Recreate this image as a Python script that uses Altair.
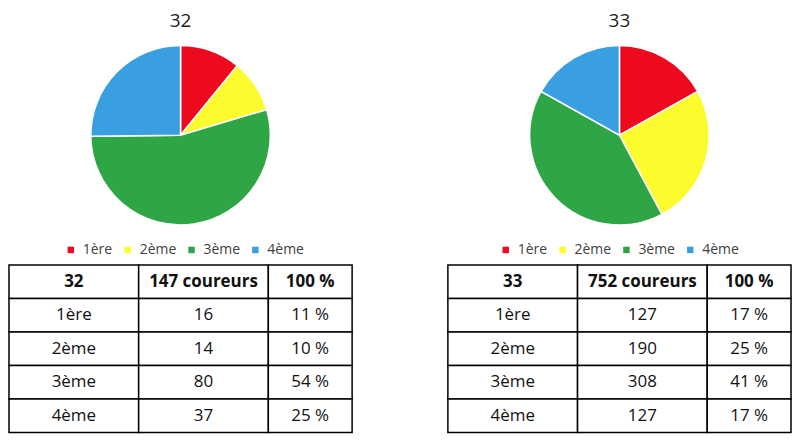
import altair as alt
import pandas as pd

FONT = "Open Sans"

CATEGORIES = ["1ère", "2ème", "3ème", "4ème"]
COLORS = ["#ee0a1e", "#fbfb2e", "#2fa646", "#3a9fe1"]

TITLE_A = "32"
TOTAL_A = "147 coureurs"
COUNTS_A = [16, 14, 80, 37]
PCT_A = ["11 %", "10 %", "54 %", "25 %"]

TITLE_B = "33"
TOTAL_B = "752 coureurs"
COUNTS_B = [127, 190, 308, 127]
PCT_B = ["17 %", "25 %", "41 %", "17 %"]

TOTAL_PCT = "100 %"

# layout only: table column widths in pixels
COL_WIDTHS = [130, 130, 84]
TABLE_W = sum(COL_WIDTHS)


def pie(title, counts, legend_x):
    df = pd.DataFrame({"cat": CATEGORIES, "n": counts, "idx": list(range(len(CATEGORIES)))})
    return (
        alt.Chart(
            df,
            title=alt.Title(title, fontSize=19, font=FONT, fontWeight="normal",
                            color="#222222", anchor="middle", offset=4),
        )
        .mark_arc(radius=90, stroke="white", strokeWidth=1.5)
        .encode(
            theta=alt.Theta("n:Q", stack=True),
            color=alt.Color(
                "cat:N",
                scale=alt.Scale(domain=CATEGORIES, range=COLORS),
                legend=alt.Legend(
                    title=None, orient="none", legendX=legend_x, legendY=208,
                    direction="horizontal", columns=4, gridAlign="none",
                    symbolType="square", symbolSize=42, symbolStrokeWidth=0,
                    labelFontSize=14, labelFont=FONT, labelColor="#404040",
                    columnPadding=8, labelOffset=5,
                ),
            ),
            order=alt.Order("idx:Q"),
        )
        .properties(width=TABLE_W, height=200)
    )


def table(title, total, counts, pcts):
    rows = [[title, total, TOTAL_PCT]] + [
        [c, str(n), p] for c, n, p in zip(CATEGORIES, counts, pcts)
    ]
    starts = [sum(COL_WIDTHS[:i]) for i in range(len(COL_WIDTHS))]
    recs = []
    for r, row in enumerate(rows):
        for c, txt in enumerate(row):
            recs.append({"row": r, "x0": starts[c], "x1": starts[c] + COL_WIDTHS[c], "label": txt})
    df = pd.DataFrame(recs)
    xs = alt.Scale(domain=[0, TABLE_W], nice=False, zero=True)
    ysc = alt.Scale(paddingInner=0, paddingOuter=0)
    base = alt.Chart(df).encode(y=alt.Y("row:O", axis=None, scale=ysc))
    cells = base.mark_rect(fill="white", stroke="black", strokeWidth=1.5).encode(
        x=alt.X("x0:Q", scale=xs, axis=None), x2="x1:Q"
    )
    txt = base.transform_calculate(xc="(datum.x0 + datum.x1) / 2").encode(
        x=alt.X("xc:Q", scale=xs, axis=None), text="label:N"
    )
    head = txt.transform_filter("datum.row == 0").mark_text(
        font=FONT, fontSize=17, fontWeight="bold", color="#111111"
    )
    body = txt.transform_filter("datum.row > 0").mark_text(
        font=FONT, fontSize=17, color="#111111"
    )
    return alt.layer(cells, head, body).properties(width=TABLE_W, height=168)


left = alt.vconcat(pie(TITLE_A, COUNTS_A, 55), table(TITLE_A, TOTAL_A, COUNTS_A, PCT_A),
                   spacing=7).resolve_scale(theta="independent", color="independent")
right = alt.vconcat(pie(TITLE_B, COUNTS_B, 51), table(TITLE_B, TOTAL_B, COUNTS_B, PCT_B),
                    spacing=7).resolve_scale(theta="independent", color="independent")

chart = (
    alt.hconcat(left, right, spacing=94)
    .resolve_scale(theta="independent", color="independent")
    .resolve_legend(color="independent")
    .properties(padding={"top": 4, "left": 0, "right": 0, "bottom": 0})
    .configure_view(strokeWidth=0)
)

chart.save("out.html", embed_options={"renderer": "svg", "actions": False})
